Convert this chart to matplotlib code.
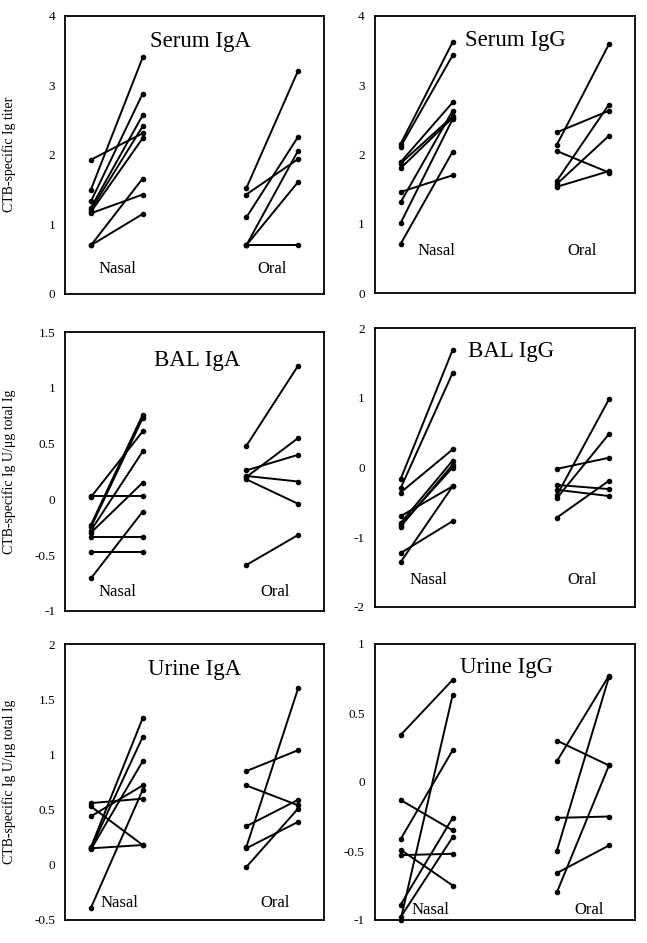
import matplotlib
matplotlib.use("Agg")
import matplotlib.pyplot as plt

plt.rcParams['font.family'] = ['Liberation Serif', 'DejaVu Serif']

# ---------------- data ----------------
groups = ["Nasal", "Oral"]
titles = ["Serum IgA", "Serum IgG", "BAL IgA", "BAL IgG", "Urine IgA", "Urine IgG"]
ylabel_titer = "CTB-specific Ig titer"
ylabel_ratio = "CTB-specific Ig U/\u03bcg total Ig"

serum_iga_nasal_pre = [1.93, 1.50, 1.33, 1.24, 1.21, 1.18, 1.16, 0.70, 0.70]
serum_iga_nasal_post = [2.31, 3.40, 2.88, 2.57, 2.41, 2.24, 1.43, 1.66, 1.15]
serum_iga_oral_pre = [1.52, 1.43, 1.10, 0.70, 0.70, 0.70]
serum_iga_oral_post = [3.21, 1.94, 2.26, 2.06, 1.61, 0.70]

serum_igg_nasal_pre = [2.15, 2.11, 1.89, 1.87, 1.80, 1.46, 1.31, 1.01, 0.71]
serum_igg_nasal_post = [3.62, 3.43, 2.75, 2.55, 2.53, 1.70, 2.63, 2.51, 2.04]
serum_igg_oral_pre = [2.32, 2.14, 2.05, 1.62, 1.575, 1.535]
serum_igg_oral_post = [2.63, 3.59, 1.74, 2.72, 2.27, 1.76]

bal_iga_nasal_pre = [0.03, 0.02, -0.23, -0.25, -0.28, -0.30, -0.335, -0.47, -0.71]
bal_iga_nasal_post = [0.03, 0.61, 0.76, 0.73, 0.43, 0.15, -0.335, -0.47, -0.11]
bal_iga_oral_pre = [0.48, 0.26, 0.20, 0.21, 0.18, -0.59]
bal_iga_oral_post = [1.20, 0.40, 0.55, 0.16, -0.04, -0.32]

bal_igg_nasal_pre = [-0.17, -0.30, -0.36, -0.70, -0.80, -0.85, -0.83, -1.23, -1.36]
bal_igg_nasal_post = [1.69, 1.36, 0.26, -0.27, 0.10, 0.04, 0.00, -0.77, -0.27]
bal_igg_oral_pre = [-0.02, -0.25, -0.32, -0.40, -0.44, -0.72]
bal_igg_oral_post = [0.14, -0.31, -0.41, 0.98, 0.48, -0.19]

urine_iga_nasal_pre = [0.56, 0.53, 0.44, 0.16, 0.15, 0.14, 0.15, -0.39]
urine_iga_nasal_post = [0.60, 0.18, 0.72, 1.33, 1.16, 0.94, 0.18, 0.68]
urine_iga_oral_pre = [0.85, 0.72, 0.35, 0.16, 0.15, -0.02]
urine_iga_oral_post = [1.04, 0.54, 0.59, 1.60, 0.39, 0.51]

urine_igg_nasal_pre = [0.34, -0.13, -0.415, -0.49, -0.53, -0.89, -0.98, -1.0]
urine_igg_nasal_post = [0.74, -0.35, 0.23, -0.75, -0.52, -0.26, -0.40, 0.63]
urine_igg_oral_pre = [0.30, 0.15, -0.26, -0.50, -0.66, -0.80]
urine_igg_oral_post = [0.12, 0.77, -0.25, 0.76, -0.46, 0.12]

serum_ticks = [0, 1, 2, 3, 4]
serum_ticklabels = ["0", "1", "2", "3", "4"]
bal_iga_ticks = [-1, -0.5, 0, 0.5, 1, 1.5]
bal_iga_ticklabels = ["-1", "-0.5", "0", "0.5", "1", "1.5"]
bal_igg_ticks = [-2, -1, 0, 1, 2]
bal_igg_ticklabels = ["-2", "-1", "0", "1", "2"]
urine_iga_ticks = [-0.5, 0, 0.5, 1, 1.5, 2]
urine_iga_ticklabels = ["-0.5", "0", "0.5", "1", "1.5", "2"]
urine_igg_ticks = [-1, -0.5, 0, 0.5, 1]
urine_igg_ticklabels = ["-1", "-0.5", "0", "0.5", "1"]

# ---------------- layout ----------------
W, H = 647, 943
fig = plt.figure(figsize=(W / 100, H / 100), dpi=100)

def rect(left, top, right, bottom):
    return [left / W, 1 - bottom / H, (right - left) / W, (bottom - top) / H]

panels = [
    dict(rect=rect(65, 15.7, 324, 294), title=titles[0], tpos=(0.521, 0.907),
         nasal=(serum_iga_nasal_pre, serum_iga_nasal_post), oral=(serum_iga_oral_pre, serum_iga_oral_post),
         ticks=serum_ticks, tl=serum_ticklabels, ylabel=ylabel_titer,
         gpos=((0.202, 0.089), (0.798, 0.089))),
    dict(rect=rect(374.5, 15.7, 635, 293.3), title=titles[1], tpos=(0.539, 0.91),
         nasal=(serum_igg_nasal_pre, serum_igg_nasal_post), oral=(serum_igg_oral_pre, serum_igg_oral_post),
         ticks=serum_ticks, tl=serum_ticklabels, ylabel=None,
         gpos=((0.236, 0.153), (0.795, 0.153))),
    dict(rect=rect(65, 332.3, 324, 610.7), title=titles[2], tpos=(0.511, 0.90),
         nasal=(bal_iga_nasal_pre, bal_iga_nasal_post), oral=(bal_iga_oral_pre, bal_iga_oral_post),
         ticks=bal_iga_ticks, tl=bal_iga_ticklabels, ylabel=ylabel_ratio,
         gpos=((0.202, 0.068), (0.81, 0.068))),
    dict(rect=rect(374.5, 328.3, 635, 606.7), title=titles[3], tpos=(0.523, 0.916),
         nasal=(bal_igg_nasal_pre, bal_igg_nasal_post), oral=(bal_igg_oral_pre, bal_igg_oral_post),
         ticks=bal_igg_ticks, tl=bal_igg_ticklabels, ylabel=None,
         gpos=((0.207, 0.096), (0.795, 0.096))),
    dict(rect=rect(65, 644.3, 324, 920), title=titles[4], tpos=(0.502, 0.91),
         nasal=(urine_iga_nasal_pre, urine_iga_nasal_post), oral=(urine_iga_oral_pre, urine_iga_oral_post),
         ticks=urine_iga_ticks, tl=urine_iga_ticklabels, ylabel=ylabel_ratio,
         gpos=((0.212, 0.06), (0.81, 0.06))),
    dict(rect=rect(374.5, 644, 635, 920), title=titles[5], tpos=(0.507, 0.914),
         nasal=(urine_igg_nasal_pre, urine_igg_nasal_post), oral=(urine_igg_oral_pre, urine_igg_oral_post),
         ticks=urine_igg_ticks, tl=urine_igg_ticklabels, ylabel=None,
         gpos=((0.216, 0.036), (0.825, 0.036))),
]

group_x = {"Nasal": (0.1, 0.3), "Oral": (0.7, 0.9)}

for p in panels:
    ax = fig.add_axes(p["rect"])
    for g, (pre, post) in zip(groups, (p["nasal"], p["oral"])):
        x0, x1 = group_x[g]
        for a, b in zip(pre, post):
            ax.plot([x0, x1], [a, b], color="black", lw=1.4, marker="o",
                    markersize=3.0, clip_on=False, solid_capstyle="round")
    ax.set_xlim(0, 1)
    ax.set_ylim(p["ticks"][0], p["ticks"][-1])
    ax.set_yticks(p["ticks"])
    ax.set_yticklabels(p["tl"])
    ax.set_xticks([])
    ax.tick_params(axis="y", length=0, pad=7, labelsize=9.5)
    for s in ax.spines.values():
        s.set_linewidth(1.3)
    ax.text(p["tpos"][0], p["tpos"][1], p["title"], transform=ax.transAxes,
            ha="center", va="center", fontsize=16.5)
    for g, (gx, gy) in zip(groups, p["gpos"]):
        ax.text(gx, gy, g, transform=ax.transAxes, ha="center", va="center", fontsize=12)
    if p["ylabel"]:
        ax.set_ylabel(p["ylabel"], fontsize=10)
        ax.yaxis.set_label_coords(-0.19, 0.5)

fig.savefig("out.png", dpi=100)
